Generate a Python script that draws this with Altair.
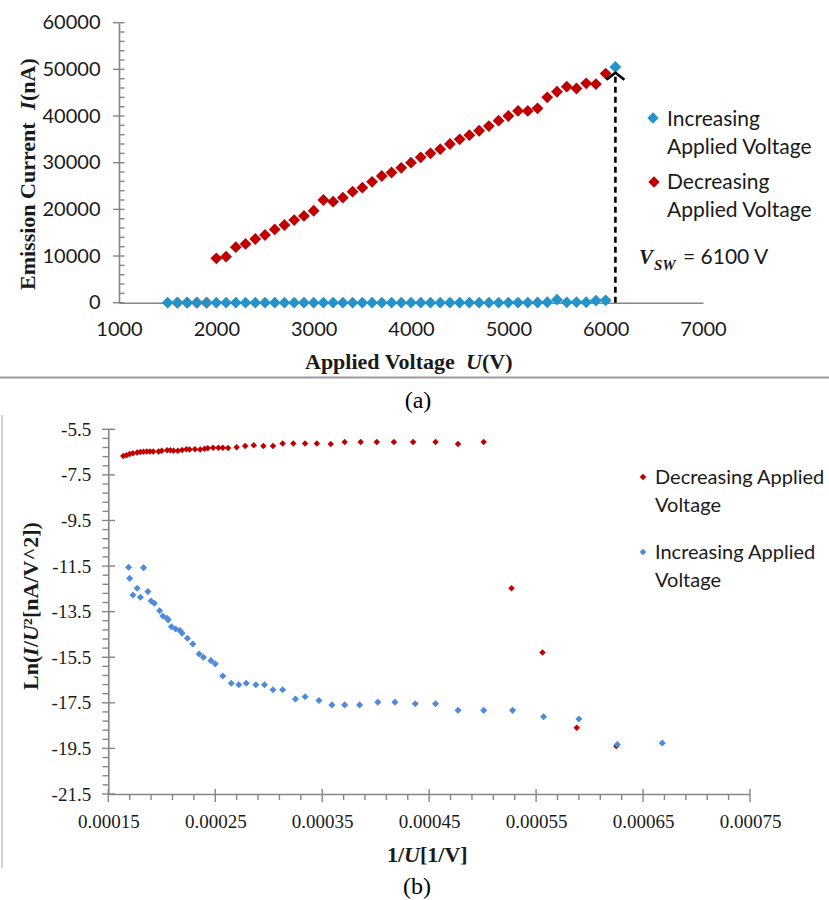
import altair as alt
import pandas as pd

# ---------------- Panel (a): I vs U ----------------
inc_u = [1500, 1600, 1700, 1800, 1900, 2000, 2100, 2200, 2300, 2400, 2500, 2600, 2700, 2800,
         2900, 3000, 3100, 3200, 3300, 3400, 3500, 3600, 3700, 3800, 3900, 4000, 4100, 4200,
         4300, 4400, 4500, 4600, 4700, 4800, 4900, 5000, 5100, 5200, 5300, 5400, 5500, 5600,
         5700, 5800, 5900, 6000, 6100]
inc_i = [0.1, 0.1, 0.1, 0.1, 0.1, 0.1, 0.1, 0.2, 0.2, 0.2, 0.2, 0.2, 0.2, 0.2,
         0.3, 0.3, 0.3, 0.4, 0.4, 0.5, 0.7, 0.8, 1.0, 1.2, 1.7, 2.2, 2.6, 3.4,
         4.1, 4.9, 5.9, 7.3, 8.9, 11, 13, 19, 25, 33, 44, 95, 650, 85,
         110, 95, 450, 500, 50500]
dec_u = [1600, 1700, 1800, 1900, 2000, 2100, 2200, 2300, 2400, 2500, 2600, 2700, 2800, 2900,
         3000, 3100, 3200, 3300, 3400, 3500, 3600, 3700, 3800, 3900, 4000, 4100, 4200, 4300,
         4400, 4500, 4600, 4700, 4800, 4900, 5000, 5100, 5200, 5300, 5400, 5500, 5600, 5700,
         5800, 5900, 6000]
dec_i = [0.01, 0.02, 0.7, 15, 9500, 9860, 11900, 12600, 13650, 14500, 15700, 16650, 17700, 18600,
         19700, 22000, 21650, 22500, 23800, 24650, 25900, 27150, 27900, 28900, 30000, 31150, 32000, 32900,
         34000, 35000, 35900, 36850, 37850, 39000, 40000, 41100, 41100, 41650, 44000, 45200, 46300, 45900,
         47000, 46850, 49100]
arrow_u = [6100]
arrow_from = [0]
arrow_to = [49300]

a_x_ticks = [1000, 2000, 3000, 4000, 5000, 6000, 7000]
a_y_ticks = [0, 10000, 20000, 30000, 40000, 50000, 60000]
a_y_minor = [2000, 4000, 6000, 8000, 12000, 14000, 16000, 18000, 22000, 24000, 26000, 28000,
             32000, 34000, 36000, 38000, 42000, 44000, 46000, 48000, 52000, 54000, 56000, 58000]

# ---------------- Panel (b): Ln(I/U^2) vs 1/U ----------------
dec_x = [0.000164, 0.000167, 0.000170, 0.000173, 0.000177, 0.000180, 0.000183, 0.000186, 0.000189,
         0.000192, 0.000197, 0.000200, 0.000205, 0.000208, 0.000211, 0.000215, 0.000219, 0.000223,
         0.000226, 0.000231, 0.000236, 0.000240, 0.000243, 0.000248, 0.000253, 0.000257, 0.000262,
         0.000270, 0.000278, 0.000286, 0.000295, 0.000304, 0.000313, 0.000323, 0.000334, 0.000345,
         0.000358, 0.000371, 0.000386, 0.000401, 0.000417, 0.000435, 0.000456, 0.000477, 0.000501,
         0.000527, 0.000556, 0.000588, 0.000625]
dec_ln = [-6.67, -6.64, -6.58, -6.55, -6.52, -6.50, -6.48, -6.47, -6.47,
          -6.47, -6.47, -6.44, -6.42, -6.42, -6.44, -6.44, -6.41, -6.38,
          -6.39, -6.38, -6.39, -6.35, -6.33, -6.31, -6.31, -6.31, -6.32,
          -6.29, -6.23, -6.20, -6.23, -6.23, -6.12, -6.12, -6.12, -6.12,
          -6.14, -6.06, -6.06, -6.06, -6.06, -6.06, -6.06, -6.14, -6.06,
          -12.47, -15.29, -18.59, -19.40]
inc_x = [0.000169, 0.000170, 0.000173, 0.000177, 0.000180, 0.000183, 0.000187, 0.000190, 0.000193,
         0.000198, 0.000201, 0.000205, 0.000206, 0.000209, 0.000213, 0.000217, 0.000219, 0.000224,
         0.000229, 0.000235, 0.000239, 0.000246, 0.000250, 0.000257, 0.000265, 0.000272, 0.000279,
         0.000288, 0.000296, 0.000304, 0.000313, 0.000325, 0.000334, 0.000347, 0.000359, 0.000371,
         0.000385, 0.000402, 0.000418, 0.000437, 0.000456, 0.000477, 0.000501, 0.000528, 0.000557,
         0.000590, 0.000626, 0.000668]
inc_ln = [-11.55, -12.04, -12.77, -12.47, -12.87, -11.57, -12.62, -13.03, -13.13,
          -13.46, -13.69, -13.79, -13.86, -14.16, -14.26, -14.33, -14.45, -14.67,
          -14.92, -15.36, -15.50, -15.65, -15.79, -16.32, -16.64, -16.71, -16.64,
          -16.71, -16.71, -16.93, -16.93, -17.33, -17.23, -17.40, -17.59, -17.59,
          -17.59, -17.47, -17.47, -17.54, -17.54, -17.83, -17.83, -17.83, -18.11,
          -18.21, -19.33, -19.26]

b_x_ticks = [0.00015, 0.00025, 0.00035, 0.00045, 0.00055, 0.00065, 0.00075]
b_x_minor = [0.00017, 0.00019, 0.00021, 0.00023, 0.00027, 0.00029, 0.00031, 0.00033,
             0.00037, 0.00039, 0.00041, 0.00043, 0.00047, 0.00049, 0.00051, 0.00053,
             0.00057, 0.00059, 0.00061, 0.00063, 0.00067, 0.00069, 0.00071, 0.00073]
b_y_ticks = [-21.5, -19.5, -17.5, -15.5, -13.5, -11.5, -9.5, -7.5, -5.5]
b_y_minor = [-21.1, -20.7, -20.3, -19.9, -19.1, -18.7, -18.3, -17.9, -17.1, -16.7, -16.3, -15.9,
             -15.1, -14.7, -14.3, -13.9, -13.1, -12.7, -12.3, -11.9, -11.1, -10.7, -10.3, -9.9,
             -9.1, -8.7, -8.3, -7.9, -7.1, -6.7, -6.3, -5.9]

legend_a = ["Increasing", "Applied Voltage", "Decreasing", "Applied Voltage"]
legend_b = ["Decreasing Applied", "Voltage", "Increasing Applied", "Voltage"]

W, H = 829, 900
RED = "#C00000"
BLUE_A = "#2593C8"
BLUE_B = "#4F8BDB"
AXC = "#868686"

# ---------- scales / axes ----------
xa_scale = alt.Scale(domain=[1000, 7000], range=[119, 703], nice=False, zero=False)
ya_scale = alt.Scale(domain=[0, 60000], range=[302.7, 22.7], nice=False, zero=False)
xa_axis = alt.Axis(orient="bottom", offset=302.7 - H, values=a_x_ticks, ticks=False, tickSize=0,
                   labelPadding=26.5, labelBaseline="middle", labelFont="Lato", labelFontSize=20,
                   labelColor="#1a1a1a", domainColor=AXC, domainWidth=1.6, grid=False, title=None,
                   format="d", labelFlush=False, labelOverlap=False)
ya_axis = alt.Axis(orient="left", offset=-119, values=a_y_ticks, ticks=False, tickSize=0,
                   labelPadding=19, labelFont="Lato", labelFontSize=20, labelColor="#1a1a1a",
                   domainColor=AXC, domainWidth=1.6, grid=False, title=None, format="d",
                   labelFlush=False, labelOverlap=False)

xb_scale = alt.Scale(domain=[0.00015, 0.00075], range=[108.3, 750], nice=False, zero=False)
yb_scale = alt.Scale(domain=[-21.5, -5.5], range=[794, 429.3], nice=False, zero=False)
xb_axis = alt.Axis(orient="bottom", offset=794 - H, values=b_x_ticks, ticks=False, tickSize=0,
                   labelPadding=27.4, labelBaseline="middle", labelFont="Liberation Serif",
                   labelFontSize=19, labelColor="#1a1a1a", domainColor=AXC, domainWidth=1.6,
                   grid=False, title=None, format=".5f", labelFlush=False, labelOverlap=False)
yb_axis = alt.Axis(orient="left", offset=-108.3, values=b_y_ticks, ticks=False, tickSize=0,
                   labelPadding=17.6, labelFont="Liberation Serif", labelFontSize=19,
                   labelColor="#1a1a1a", domainColor=AXC, domainWidth=1.6, grid=False, title=None,
                   labelExpr="datum.value < 0 ? '-' + format(-datum.value, '.1f') : format(datum.value, '.1f')",
                   labelFlush=False, labelOverlap=False)

one = pd.DataFrame({"k": [0]})


def txt(s, x, y, size=20, font="Lato", weight="normal", style="normal", align="left",
        angle=0, color="#1a1a1a", baseline="middle"):
    return alt.Chart(pd.DataFrame({"t": [s]})).mark_text(
        align=align, baseline=baseline, font=font, fontSize=size, fontWeight=weight,
        fontStyle=style, angle=angle, color=color
    ).encode(text="t:N", x=alt.value(x), y=alt.value(y))


def marker(x, y, color, size):
    return alt.Chart(one).mark_point(shape="diamond", filled=True, size=size, color=color,
                                     opacity=1).encode(x=alt.value(x), y=alt.value(y))


# ---------- panel (a) ----------
a_ymaj = alt.Chart(pd.DataFrame({"v": a_y_ticks})).mark_rule(color=AXC, strokeWidth=1.4).encode(
    y=alt.Y("v:Q", scale=ya_scale, axis=ya_axis), x=alt.value(113), x2=alt.value(124.5))
a_ymin = alt.Chart(pd.DataFrame({"v": a_y_minor})).mark_rule(color=AXC, strokeWidth=1.4).encode(
    y=alt.Y("v:Q", scale=ya_scale, axis=ya_axis), x=alt.value(119), x2=alt.value(124.5))
a_dec = alt.Chart(pd.DataFrame({"u": dec_u, "i": dec_i})).mark_point(
    shape="diamond", filled=True, size=140, color=RED, opacity=1).encode(
    x=alt.X("u:Q", scale=xa_scale, axis=xa_axis), y=alt.Y("i:Q", scale=ya_scale, axis=ya_axis))
a_inc = alt.Chart(pd.DataFrame({"u": inc_u, "i": inc_i})).mark_point(
    shape="diamond", filled=True, size=140, color=BLUE_A, opacity=1).encode(
    x=alt.X("u:Q", scale=xa_scale, axis=xa_axis), y=alt.Y("i:Q", scale=ya_scale, axis=ya_axis))
a_arrow = alt.Chart(pd.DataFrame({"u": arrow_u, "i0": arrow_from, "i1": arrow_to})).mark_rule(
    color="black", strokeWidth=2.6, strokeDash=[6, 4]).encode(
    x=alt.X("u:Q", scale=xa_scale, axis=xa_axis), y=alt.Y("i0:Q", scale=ya_scale, axis=ya_axis),
    y2="i1:Q")
a_head = alt.Chart(pd.DataFrame({"u": arrow_u, "i": arrow_to})).mark_point(
    shape="M-1,0.8L0,0L1,0.8", filled=False, stroke="black", strokeWidth=2.6, size=324,
    opacity=1).encode(
    x=alt.X("u:Q", scale=xa_scale, axis=xa_axis), y=alt.Y("i:Q", scale=ya_scale, axis=ya_axis))
panel_a = alt.layer(a_ymaj, a_ymin, a_arrow, a_dec, a_inc, a_head)

# ---------- panel (b) ----------
b_ymaj = alt.Chart(pd.DataFrame({"v": b_y_ticks})).mark_rule(color=AXC, strokeWidth=1.4).encode(
    y=alt.Y("v:Q", scale=yb_scale, axis=yb_axis), x=alt.value(102), x2=alt.value(115))
b_ymin = alt.Chart(pd.DataFrame({"v": b_y_minor})).mark_rule(color=AXC, strokeWidth=1.4).encode(
    y=alt.Y("v:Q", scale=yb_scale, axis=yb_axis), x=alt.value(102.5), x2=alt.value(108.3))
b_xmaj = alt.Chart(pd.DataFrame({"v": b_x_ticks})).mark_rule(color=AXC, strokeWidth=1.4).encode(
    x=alt.X("v:Q", scale=xb_scale, axis=xb_axis), y=alt.value(789), y2=alt.value(802))
b_xmin = alt.Chart(pd.DataFrame({"v": b_x_minor})).mark_rule(color=AXC, strokeWidth=1.4).encode(
    x=alt.X("v:Q", scale=xb_scale, axis=xb_axis), y=alt.value(794), y2=alt.value(800))
b_dec = alt.Chart(pd.DataFrame({"x": dec_x, "y": dec_ln})).mark_point(
    shape="diamond", filled=True, size=42, color=RED, opacity=1).encode(
    x=alt.X("x:Q", scale=xb_scale, axis=xb_axis), y=alt.Y("y:Q", scale=yb_scale, axis=yb_axis))
b_inc = alt.Chart(pd.DataFrame({"x": inc_x, "y": inc_ln})).mark_point(
    shape="diamond", filled=True, size=50, color=BLUE_B, opacity=1).encode(
    x=alt.X("x:Q", scale=xb_scale, axis=xb_axis), y=alt.Y("y:Q", scale=yb_scale, axis=yb_axis))
panel_b = alt.layer(b_ymaj, b_ymin, b_xmaj, b_xmin, b_dec, b_inc)

# ---------- annotations ----------
SERIF = "Liberation Serif"
annos = [
    # separator and left border
    alt.Chart(one).mark_rule(color="#9a9a9a", strokeWidth=2).encode(
        x=alt.value(0), x2=alt.value(W), y=alt.value(377.5)),
    alt.Chart(one).mark_rule(color="#c4c4c4", strokeWidth=1.5).encode(
        x=alt.value(2), y=alt.value(415), y2=alt.value(868)),
    # panel (a) axis titles
    txt("Emission Current", 28, 290, size=22, font=SERIF, weight="bold", angle=270),
    txt("I", 28, 110, size=22, font=SERIF, weight="bold", style="italic", angle=270),
    txt("(nA)", 28, 101, size=22, font=SERIF, weight="bold", angle=270),
    txt("Applied  Voltage", 305, 362, size=22, font=SERIF, weight="bold"),
    txt("U", 466, 362, size=22, font=SERIF, weight="bold", style="italic"),
    txt("(V)", 482, 362, size=22, font=SERIF, weight="bold"),
    # panel (a) legend
    marker(653, 118, BLUE_A, 130),
    txt(legend_a[0], 667, 120, size=21),
    txt(legend_a[1], 667, 148, size=21),
    marker(654, 182, RED, 130),
    txt(legend_a[2], 667, 183, size=21),
    txt(legend_a[3], 667, 211, size=21),
    # V_SW annotation
    txt("V", 639, 258, size=21, font=SERIF, weight="bold", style="italic"),
    txt("SW", 654, 265, size=15, font=SERIF, weight="bold", style="italic"),
    txt("= 6100  V", 683, 258, size=21),
    # (a) label
    txt("(a)", 418, 401, size=24, font=SERIF, align="center", color="black"),
    # panel (b) titles
    txt("Ln(", 31, 690, size=22, font=SERIF, weight="bold", angle=270),
    txt("I", 31, 656, size=22, font=SERIF, weight="bold", style="italic", angle=270),
    txt("/", 31, 647, size=22, font=SERIF, weight="bold", angle=270),
    txt("U", 31, 641, size=22, font=SERIF, weight="bold", style="italic", angle=270),
    txt("\u00b2", 31, 625, size=22, font=SERIF, weight="bold", angle=270),
    txt("[nA/V^2])", 31, 618, size=22, font=SERIF, weight="bold", angle=270),
    txt("1/", 387, 855, size=22, font=SERIF, weight="bold"),
    txt("U", 404, 855, size=22, font=SERIF, weight="bold", style="italic"),
    txt("[1/V]", 420, 855, size=22, font=SERIF, weight="bold"),
    # panel (b) legend
    marker(643, 477, RED, 45),
    txt(legend_b[0], 655, 478, size=20),
    txt(legend_b[1], 655, 506, size=20),
    marker(643, 552, BLUE_B, 45),
    txt(legend_b[2], 655, 553, size=20),
    txt(legend_b[3], 655, 581, size=20),
    # (b) label
    txt("(b)", 417, 887, size=24, font=SERIF, align="center", color="black"),
]

chart = alt.layer(panel_a, panel_b, *annos).resolve_scale(
    x="independent", y="independent"
).properties(
    width=W, height=H, padding=0, autosize=alt.AutoSizeParams(type="none"), background="white"
).configure_view(strokeWidth=0)

chart.save("out.html", embed_options={"renderer": "svg", "actions": False})
